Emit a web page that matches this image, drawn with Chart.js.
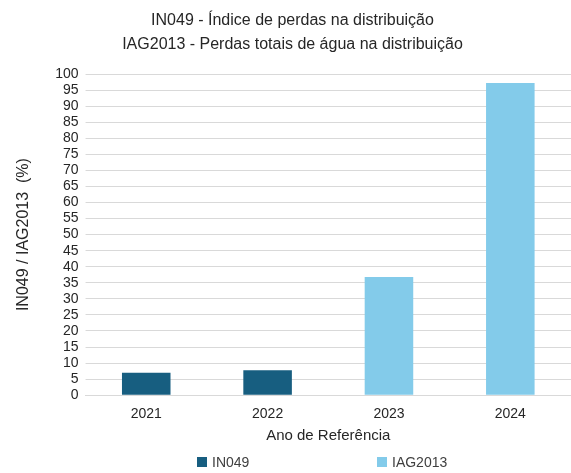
<!DOCTYPE html>
<html>
<head>
<meta charset="utf-8">
<script src="https://cdn.jsdelivr.net/npm/chart.js@4/dist/chart.umd.min.js"></script>
<style>
  html, body { margin: 0; padding: 0; background: #fff; }
  #wrap { width: 571px; height: 473px; }
</style>
</head>
<body>
<div id="wrap"><canvas id="perdas-chart"></canvas></div>
<script>
// Values
const years = ['2021', '2022', '2023', '2024'];
const in049 = [7, 7.8, null, null];
const iag2013 = [null, null, 36.8, 97.2];
const seriesNames = ['IN049', 'IAG2013'];
const seriesColors = ['#175e80', '#83cbea'];
const titleLines = ['IN049 - Índice de perdas na distribuição', 'IAG2013 - Perdas totais de água na distribuição'];

const FONT = "'Liberation Sans', Arial, sans-serif";

// draws the legend by hand so the two items can sit far apart like the original
const bottomLegend = {
    id: 'bottomLegend',
    afterDraw(chart) {
        const c = chart.ctx;
        const xs = [197, 377];
        const y = 462;
        c.save();
        c.font = '14px ' + FONT;
        c.textBaseline = 'middle';
        chart.data.datasets.forEach(function(ds, i) {
            c.fillStyle = ds.backgroundColor;
            c.fillRect(xs[i], y - 5, 10, 10);
            c.fillStyle = '#404040';
            c.fillText(ds.label, xs[i] + 15, y + 1);
        });
        c.restore();
    }
};

const ctx = document.getElementById('perdas-chart').getContext('2d');
const chart = new Chart(ctx, {
    type: 'bar',
    data: {
        labels: years,
        datasets: [
            { label: seriesNames[0], data: in049, backgroundColor: seriesColors[0] },
            { label: seriesNames[1], data: iag2013, backgroundColor: seriesColors[1] }
        ]
    },
    options: {
        responsive: true,
        maintainAspectRatio: false,
        animation: false,
        layout: { padding: { left: 14, right: 0, top: 9, bottom: 28 } },
        datasets: { bar: { categoryPercentage: 1, barPercentage: 0.4 } },
        plugins: {
            legend: { display: false },
            tooltip: { enabled: false },
            title: {
                display: true,
                text: titleLines,
                color: '#262626',
                font: { family: FONT, size: 16, weight: 'normal', lineHeight: 1.5 },
                padding: { top: 0, bottom: 17 }
            }
        },
        scales: {
            x: {
                stacked: true,
                grid: { display: false },
                border: { color: '#d9d9d9' },
                ticks: { color: '#262626', font: { family: FONT, size: 14 }, padding: 3 },
                title: {
                    display: true,
                    text: 'Ano de Referência',
                    color: '#262626',
                    font: { family: FONT, size: 15 },
                    padding: { top: 1, bottom: 0 }
                }
            },
            y: {
                stacked: true,
                min: 0,
                max: 100,
                ticks: { stepSize: 5, autoSkip: false, color: '#262626', font: { family: FONT, size: 14 }, padding: 7 },
                grid: { color: '#d9d9d9', tickLength: 0 },
                border: { display: false },
                title: {
                    display: true,
                    text: 'IN049 / IAG2013  (%)',
                    color: '#262626',
                    font: { family: FONT, size: 16 },
                    padding: { top: 0, bottom: 15 }
                }
            }
        }
    },
    plugins: [bottomLegend]
});
</script>
</body>
</html>
